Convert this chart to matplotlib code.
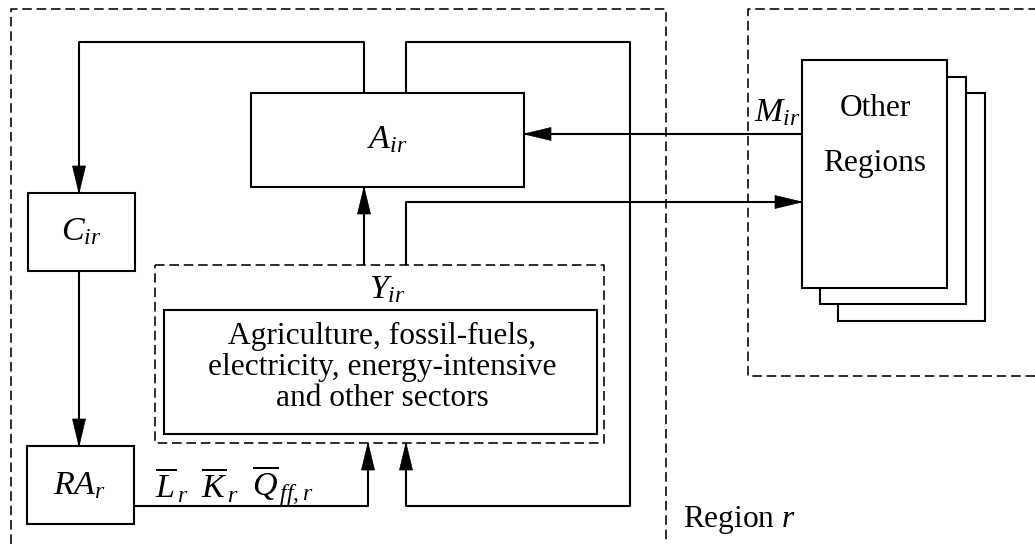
import matplotlib.pyplot as plt
from matplotlib.patches import Rectangle, Polygon

plt.rcParams['mathtext.fontset'] = 'custom'
plt.rcParams['mathtext.rm'] = 'Liberation Serif'
plt.rcParams['mathtext.it'] = 'Liberation Serif:italic'
plt.rcParams['font.family'] = ['Liberation Serif', 'DejaVu Serif']

# diagram geometry (pixel units, y downwards)
boxes = {  # name: (left, top, right, bottom)
    'A': (251, 93, 524, 187),
    'C': (28, 193, 135, 271),
    'RA': (27, 446, 134, 524),
    'sectors': (164, 310, 597, 434),
}
other_stack = [(838, 93, 985, 321), (820, 77, 966, 304), (802, 60, 947, 288)]
y_box = (155, 265, 604, 443)
region_r = [(11, 544), (11, 9), (666, 9), (666, 544)]
region_other = [(1035, 376), (748, 376), (748, 9), (1035, 9)]

# flows: polyline, arrow at the end?
flows = [
    ([(364, 93), (364, 42), (79, 42), (79, 193)], True),
    ([(406, 93), (406, 42), (630, 42), (630, 506), (406, 506), (406, 443)], True),
    ([(79, 271), (79, 446)], True),
    ([(134, 506), (368, 506), (368, 443)], True),
    ([(364, 265), (364, 187)], True),
    ([(406, 265), (406, 202), (802, 202)], True),
    ([(802, 134), (524, 134)], True),
]

labels = [  # text, x, y, ha, size
    (r'$A_{ir}$', 387, 140, 'center', 24.5),
    (r'$C_{ir}$', 81, 232, 'center', 24.5),
    (r'$RA_{r}$', 80, 486, 'center', 24.5),
    (r'$Y_{ir}$', 387, 290, 'center', 24.5),
    (r'$M_{ir}$', 777, 113, 'center', 24.5),
    ('Agriculture, fossil-fuels,', 382, 336, 'center', 22.6),
    ('electricity, energy-intensive', 382, 368, 'center', 22.6),
    ('and other sectors', 382, 399, 'center', 22.6),
    ('Other', 875, 108, 'center', 22.6),
    ('Regions', 875, 163, 'center', 22.6),
    (r'Region $r$', 683, 520, 'left', 22.6),
    (r'$\overline{L}_{\,r}$', 155, 486, 'left', 24.5),
    (r'$\overline{K}_{\,r}$', 201, 486, 'left', 24.5),
    (r'$\overline{Q}_{\,ff,r}$', 252, 486, 'left', 24.5),
]

lw = 1.5
dash = (0, (6, 3))


def head(ax, p0, p1, length=27, width=13):
    # filled triangular arrow head pointing from p0 to p1
    dx, dy = p1[0] - p0[0], p1[1] - p0[1]
    n = (dx ** 2 + dy ** 2) ** 0.5
    ux, uy = dx / n, dy / n
    bx, by = p1[0] - ux * length, p1[1] - uy * length
    pts = [p1, (bx - uy * width / 2, by + ux * width / 2), (bx + uy * width / 2, by - ux * width / 2)]
    ax.add_patch(Polygon(pts, closed=True, facecolor='black', edgecolor='black', lw=0.5, zorder=5))


fig = plt.figure(figsize=(10.35, 5.44), dpi=100)
ax = fig.add_axes([0, 0, 1, 1])
ax.set_xlim(0, 1035)
ax.set_ylim(544, 0)
ax.axis('off')

# dashed region borders
for poly in (region_r, region_other):
    ax.plot([p[0] for p in poly], [p[1] for p in poly], color='black', lw=1.15, linestyle=dash)
x0, y0, x1, y1 = y_box
ax.plot([x0, x1, x1, x0, x0], [y0, y0, y1, y1, y0], color='black', lw=1.15, linestyle=dash)

# solid boxes
for l, t, r, b in boxes.values():
    ax.add_patch(Rectangle((l, t), r - l, b - t, facecolor='white', edgecolor='black', lw=lw, zorder=3))
for i, (l, t, r, b) in enumerate(other_stack):
    ax.add_patch(Rectangle((l, t), r - l, b - t, facecolor='white', edgecolor='black', lw=lw, zorder=3 + i))

# flows
for pts, arrow in flows:
    ax.plot([p[0] for p in pts], [p[1] for p in pts], color='black', lw=lw, zorder=2, solid_capstyle='butt')
    if arrow:
        head(ax, pts[-2], pts[-1])

for text, x, y, ha, size in labels:
    ax.text(x, y, text, ha=ha, va='center', fontsize=size, zorder=10)

fig.savefig('out.png', dpi=100)
